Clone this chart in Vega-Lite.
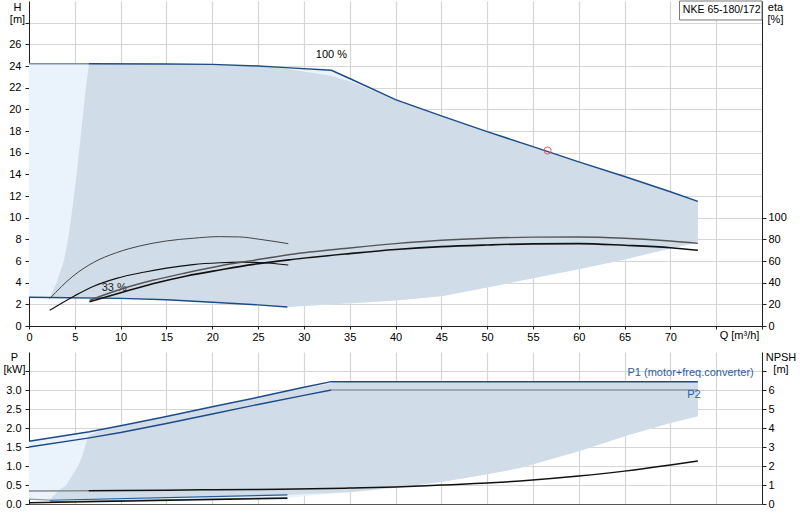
{
  "$schema": "https://vega.github.io/schema/vega-lite/v6.json",
  "background": "white",
  "padding": {"left": 3, "top": 0, "right": 0, "bottom": 0},
  "bounds": "flush",
  "spacing": 26,
  "datasets": {
    "light_h": [
      {"Q": 0, "H": 2.65, "H2": 24.2}, {"Q": 2.2, "H": 2.62, "H2": 24.2}, {"Q": 6.55, "H": 2.58, "H2": 24.2},
      {"Q": 10, "H": 2.55, "H2": 24.18}, {"Q": 15, "H": 2.42, "H2": 24.17}, {"Q": 20, "H": 2.2, "H2": 24.15},
      {"Q": 25, "H": 1.95, "H2": 24.0}, {"Q": 28.2, "H": 1.75, "H2": 23.83}, {"Q": 33, "H": 2.0, "H2": 23.6},
      {"Q": 35, "H": 2.1, "H2": 22.85}, {"Q": 40, "H": 2.35, "H2": 20.9}, {"Q": 45, "H": 2.75, "H2": 19.4},
      {"Q": 50, "H": 3.55, "H2": 17.94}, {"Q": 55, "H": 4.4, "H2": 16.56}, {"Q": 60, "H": 5.25, "H2": 15.15},
      {"Q": 65, "H": 6.15, "H2": 13.8}, {"Q": 70, "H": 7.15, "H2": 12.4}, {"Q": 73, "H": 7.7, "H2": 11.5}
    ],
    "dark_h": [
      {"Q": 2.25, "H": 2.6, "H2": 2.6}, {"Q": 3.0, "H": 2.6, "H2": 4.0}, {"Q": 3.8, "H": 2.59, "H2": 6.0},
      {"Q": 4.27, "H": 2.59, "H2": 8.0}, {"Q": 4.6, "H": 2.59, "H2": 10.0}, {"Q": 5.2, "H": 2.58, "H2": 14.0},
      {"Q": 5.7, "H": 2.58, "H2": 18.0}, {"Q": 6.2, "H": 2.58, "H2": 22.0}, {"Q": 6.55, "H": 2.58, "H2": 24.2},
      {"Q": 10, "H": 2.55, "H2": 24.18}, {"Q": 15, "H": 2.42, "H2": 24.16}, {"Q": 20, "H": 2.2, "H2": 24.12},
      {"Q": 25, "H": 1.95, "H2": 23.95}, {"Q": 28.2, "H": 1.75, "H2": 23.72}, {"Q": 31, "H": 1.9, "H2": 23.35},
      {"Q": 33, "H": 2.0, "H2": 23.1}, {"Q": 35, "H": 2.1, "H2": 22.6}, {"Q": 37, "H": 2.2, "H2": 21.9},
      {"Q": 40, "H": 2.35, "H2": 20.85}, {"Q": 45, "H": 2.75, "H2": 19.38}, {"Q": 50, "H": 3.55, "H2": 17.92},
      {"Q": 55, "H": 4.4, "H2": 16.54}, {"Q": 60, "H": 5.25, "H2": 15.13}, {"Q": 65, "H": 6.15, "H2": 13.78},
      {"Q": 70, "H": 7.15, "H2": 12.38}, {"Q": 73, "H": 7.7, "H2": 11.5}
    ],
    "h_lines": [
      {"s": "ext", "Q": 0, "H": 24.2}, {"s": "ext", "Q": 6.5, "H": 24.2},
      {"s": "max", "Q": 6.5, "H": 24.2}, {"s": "max", "Q": 15, "H": 24.18}, {"s": "max", "Q": 20, "H": 24.15},
      {"s": "max", "Q": 25, "H": 24.0}, {"s": "max", "Q": 28, "H": 23.85}, {"s": "max", "Q": 33, "H": 23.6},
      {"s": "max", "Q": 35, "H": 22.85}, {"s": "max", "Q": 40, "H": 20.9}, {"s": "max", "Q": 45, "H": 19.4},
      {"s": "max", "Q": 50, "H": 17.94}, {"s": "max", "Q": 55, "H": 16.56}, {"s": "max", "Q": 60, "H": 15.15},
      {"s": "max", "Q": 65, "H": 13.8}, {"s": "max", "Q": 70, "H": 12.4}, {"s": "max", "Q": 73, "H": 11.5},
      {"s": "min", "Q": 0, "H": 2.65}, {"s": "min", "Q": 2.2, "H": 2.62}, {"s": "min", "Q": 10, "H": 2.55},
      {"s": "min", "Q": 15, "H": 2.42}, {"s": "min", "Q": 20, "H": 2.2}, {"s": "min", "Q": 25, "H": 1.95},
      {"s": "min", "Q": 28.2, "H": 1.75}
    ],
    "eta": [
      {"c": "a", "Q": 2.26, "eta": 25.3}, {"c": "a", "Q": 4.8, "eta": 46}, {"c": "a", "Q": 7.0, "eta": 58.5},
      {"c": "a", "Q": 9.55, "eta": 67.7}, {"c": "a", "Q": 12.1, "eta": 73.9}, {"c": "a", "Q": 15, "eta": 78.5},
      {"c": "a", "Q": 17.9, "eta": 81}, {"c": "a", "Q": 20.8, "eta": 82.5}, {"c": "a", "Q": 23, "eta": 82.2},
      {"c": "a", "Q": 25.2, "eta": 80}, {"c": "a", "Q": 28.3, "eta": 76},
      {"c": "b", "Q": 2.26, "eta": 14.5}, {"c": "b", "Q": 5, "eta": 28}, {"c": "b", "Q": 7, "eta": 36.5},
      {"c": "b", "Q": 9.55, "eta": 44}, {"c": "b", "Q": 12.5, "eta": 49.6}, {"c": "b", "Q": 15, "eta": 53.4},
      {"c": "b", "Q": 17.9, "eta": 56.7}, {"c": "b", "Q": 20.8, "eta": 58.4}, {"c": "b", "Q": 23, "eta": 59},
      {"c": "b", "Q": 25.6, "eta": 58.4}, {"c": "b", "Q": 28.3, "eta": 56.3},
      {"c": "c", "Q": 6.6, "eta": 23.7}, {"c": "c", "Q": 10, "eta": 33.9}, {"c": "c", "Q": 13.5, "eta": 42.2},
      {"c": "c", "Q": 17.2, "eta": 49.2}, {"c": "c", "Q": 20.8, "eta": 55.4}, {"c": "c", "Q": 24.5, "eta": 60.6},
      {"c": "c", "Q": 28.5, "eta": 66}, {"c": "c", "Q": 35, "eta": 72}, {"c": "c", "Q": 40, "eta": 76},
      {"c": "c", "Q": 45, "eta": 79.1}, {"c": "c", "Q": 50, "eta": 81}, {"c": "c", "Q": 55, "eta": 82},
      {"c": "c", "Q": 60, "eta": 82.2}, {"c": "c", "Q": 65, "eta": 81}, {"c": "c", "Q": 70, "eta": 78.5},
      {"c": "c", "Q": 73, "eta": 76.3},
      {"c": "d", "Q": 6.6, "eta": 22.4}, {"c": "d", "Q": 10, "eta": 30.7}, {"c": "d", "Q": 13.5, "eta": 39},
      {"c": "d", "Q": 17.2, "eta": 46.2}, {"c": "d", "Q": 20.8, "eta": 51.7}, {"c": "d", "Q": 24.5, "eta": 56.9},
      {"c": "d", "Q": 28.5, "eta": 61.2}, {"c": "d", "Q": 35, "eta": 66.8}, {"c": "d", "Q": 40, "eta": 70.6},
      {"c": "d", "Q": 45, "eta": 73.3}, {"c": "d", "Q": 50, "eta": 74.8}, {"c": "d", "Q": 55, "eta": 75.8},
      {"c": "d", "Q": 60, "eta": 76}, {"c": "d", "Q": 65, "eta": 74.5}, {"c": "d", "Q": 70, "eta": 72.3},
      {"c": "d", "Q": 73, "eta": 69.9}
    ],
    "light_p": [
      {"Q": 0, "P": 0.12, "P2": 1.65}, {"Q": 2.2, "P": 0.1, "P2": 1.74}, {"Q": 6.5, "P": 0.08, "P2": 1.9},
      {"Q": 10, "P": 0.09, "P2": 2.06}, {"Q": 15, "P": 0.11, "P2": 2.3}, {"Q": 20, "P": 0.13, "P2": 2.56},
      {"Q": 25, "P": 0.15, "P2": 2.81}, {"Q": 28.2, "P": 0.165, "P2": 2.97}, {"Q": 33, "P": 0.27, "P2": 3.22},
      {"Q": 35, "P": 0.31, "P2": 3.22}, {"Q": 40, "P": 0.43, "P2": 3.22}, {"Q": 45, "P": 0.58, "P2": 3.22},
      {"Q": 50, "P": 0.78, "P2": 3.22}, {"Q": 53.6, "P": 0.95, "P2": 3.22}, {"Q": 60, "P": 1.39, "P2": 3.22},
      {"Q": 65, "P": 1.78, "P2": 3.22}, {"Q": 70, "P": 2.13, "P2": 3.22}, {"Q": 73, "P": 2.31, "P2": 3.22}
    ],
    "dark_p": [
      {"Q": 2.2, "P": 0.1, "P2": 0.1}, {"Q": 2.8, "P": 0.103, "P2": 0.25}, {"Q": 3.5, "P": 0.107, "P2": 0.4},
      {"Q": 4.1, "P": 0.11, "P2": 0.5}, {"Q": 4.7, "P": 0.113, "P2": 0.75}, {"Q": 5.35, "P": 0.117, "P2": 1.0},
      {"Q": 5.8, "P": 0.12, "P2": 1.25}, {"Q": 6.1, "P": 0.121, "P2": 1.5}, {"Q": 6.5, "P": 0.123, "P2": 1.8},
      {"Q": 8, "P": 0.131, "P2": 1.95}, {"Q": 10, "P": 0.142, "P2": 2.05}, {"Q": 15, "P": 0.169, "P2": 2.29},
      {"Q": 20, "P": 0.196, "P2": 2.55}, {"Q": 25, "P": 0.223, "P2": 2.8}, {"Q": 28.2, "P": 0.24, "P2": 2.96},
      {"Q": 30, "P": 0.26, "P2": 3.05}, {"Q": 33, "P": 0.29, "P2": 3.17}, {"Q": 35, "P": 0.31, "P2": 3.21},
      {"Q": 40, "P": 0.43, "P2": 3.22}, {"Q": 45, "P": 0.58, "P2": 3.22}, {"Q": 50, "P": 0.78, "P2": 3.22},
      {"Q": 53.6, "P": 0.95, "P2": 3.22}, {"Q": 60, "P": 1.39, "P2": 3.22}, {"Q": 65, "P": 1.78, "P2": 3.22},
      {"Q": 70, "P": 2.13, "P2": 3.22}, {"Q": 73, "P": 2.31, "P2": 3.22}
    ],
    "p_lines": [
      {"s": "P1", "Q": 0, "P": 1.65}, {"s": "P1", "Q": 6.6, "P": 1.9}, {"s": "P1", "Q": 10, "P": 2.06},
      {"s": "P1", "Q": 15, "P": 2.3}, {"s": "P1", "Q": 20, "P": 2.56}, {"s": "P1", "Q": 25, "P": 2.81},
      {"s": "P1", "Q": 30, "P": 3.07}, {"s": "P1", "Q": 33, "P": 3.22}, {"s": "P1", "Q": 73, "P": 3.22},
      {"s": "P2a", "Q": 0, "P": 1.5}, {"s": "P2a", "Q": 6.6, "P": 1.74}, {"s": "P2a", "Q": 10, "P": 1.88},
      {"s": "P2a", "Q": 15, "P": 2.12}, {"s": "P2a", "Q": 20, "P": 2.37}, {"s": "P2a", "Q": 25, "P": 2.62},
      {"s": "P2a", "Q": 30, "P": 2.86}, {"s": "P2a", "Q": 33, "P": 3.0},
      {"s": "P2b", "Q": 33, "P": 3.0}, {"s": "P2b", "Q": 73, "P": 3.0},
      {"s": "P1ext", "Q": 0, "P": 0.13}, {"s": "P1ext", "Q": 2.3, "P": 0.1},
      {"s": "P1min", "Q": 2.3, "P": 0.1}, {"s": "P1min", "Q": 28.2, "P": 0.24},
      {"s": "P2min", "Q": 2.3, "P": 0.06}, {"s": "P2min", "Q": 28.2, "P": 0.165}
    ],
    "npsh": [
      {"s": "ext", "Q": 0, "NPSH": 0.68}, {"s": "ext", "Q": 6.5, "NPSH": 0.7},
      {"s": "npsh", "Q": 6.5, "NPSH": 0.7}, {"s": "npsh", "Q": 15, "NPSH": 0.73}, {"s": "npsh", "Q": 20, "NPSH": 0.75},
      {"s": "npsh", "Q": 27.4, "NPSH": 0.77}, {"s": "npsh", "Q": 35, "NPSH": 0.84}, {"s": "npsh", "Q": 40, "NPSH": 0.9},
      {"s": "npsh", "Q": 45, "NPSH": 1.0}, {"s": "npsh", "Q": 50, "NPSH": 1.1}, {"s": "npsh", "Q": 53.6, "NPSH": 1.21},
      {"s": "npsh", "Q": 60, "NPSH": 1.47}, {"s": "npsh", "Q": 65, "NPSH": 1.73}, {"s": "npsh", "Q": 70, "NPSH": 2.05},
      {"s": "npsh", "Q": 73, "NPSH": 2.26},
      {"s": "min", "Q": 0, "NPSH": 0.07}, {"s": "min", "Q": 28.2, "NPSH": 0.3}
    ]
  },
  "config": {
    "font": "Liberation Sans",
    "view": {"stroke": null},
    "axis": {
      "labelFont": "Liberation Sans", "labelFontSize": 11, "labelColor": "#000",
      "titleFont": "Liberation Sans", "titleFontSize": 11, "titleFontWeight": "normal", "titleColor": "#000",
      "gridColor": "#d6d6d6", "gridWidth": 1.2, "domainColor": "#222", "tickColor": "#222",
      "tickSize": 4, "labelPadding": 3, "labelFlush": false, "labelOverlap": false, "zindex": 1
    },
    "text": {"font": "Liberation Sans", "fontSize": 11}
  },
  "vconcat": [
    {
      "width": 733,
      "height": 325,
      "layer": [
        {
          "layer": [
            {
              "encoding": {
                "x": {
                  "field": "Q", "type": "quantitative",
                  "scale": {"domain": [0, 80], "nice": false, "zero": false},
                  "axis": {"values": [0, 5, 10, 15, 20, 25, 30, 35, 40, 45, 50, 55, 60, 65, 70, 75, 80], "labelExpr": "datum.value > 70 ? '' : datum.label", "title": "Q [m³/h]", "titleX": 710, "titleY": 9, "titleBaseline": "middle", "titleAlign": "center", "tickSize": 3, "labelPadding": 2}
                },
                "y": {
                  "field": "H", "type": "quantitative",
                  "scale": {"domain": [0, 30], "nice": false},
                  "axis": {"values": [0, 2, 4, 6, 8, 10, 12, 14, 16, 18, 20, 22, 24, 26, 28], "labelExpr": "datum.value > 26 ? '' : datum.label", "title": ["H", "[m]"], "titleAngle": 0, "titleAlign": "center", "titleBaseline": "top", "titleX": -12, "titleY": 0, "titleLineHeight": 12, "labelPadding": 4}
                }
              },
              "layer": [
                {"data": {"name": "light_h"}, "mark": {"type": "area", "color": "#eaf3fb"}, "encoding": {"y2": {"field": "H2"}}},
                {"data": {"name": "dark_h"}, "mark": {"type": "area", "color": "#d0dce7"}, "encoding": {"y2": {"field": "H2"}}},
                {
                  "data": {"name": "h_lines"},
                  "mark": {"type": "line", "strokeWidth": 1.5},
                  "encoding": {"color": {"field": "s", "type": "nominal", "scale": {"domain": ["ext", "max", "min"], "range": ["#7a90ab", "#1c4b88", "#1c4b88"]}, "legend": null}}
                }
              ]
            },
            {
              "data": {"values": [{}]},
              "mark": {"type": "point", "shape": "circle", "filled": false, "color": "#ec5a5a", "size": 50, "strokeWidth": 1, "opacity": 1},
              "encoding": {
                "x": {"datum": 56.6, "type": "quantitative", "scale": {"domain": [0, 80], "nice": false, "zero": false}, "axis": {"values": [0, 5, 10, 15, 20, 25, 30, 35, 40, 45, 50, 55, 60, 65, 70, 75, 80], "labelExpr": "datum.value > 70 ? '' : datum.label", "title": "Q [m³/h]", "titleX": 710, "titleY": 9, "titleBaseline": "middle", "titleAlign": "center", "tickSize": 3, "labelPadding": 2}},
                "y": {"datum": 16.2, "type": "quantitative", "scale": {"domain": [0, 30], "nice": false}, "axis": {"values": [0, 2, 4, 6, 8, 10, 12, 14, 16, 18, 20, 22, 24, 26, 28], "labelExpr": "datum.value > 26 ? '' : datum.label", "title": ["H", "[m]"], "titleAngle": 0, "titleAlign": "center", "titleBaseline": "top", "titleX": -12, "titleY": 0, "titleLineHeight": 12, "labelPadding": 4}}
              }
            },
            {
              "data": {"values": [{}]},
              "mark": {"type": "text", "text": "100 %", "color": "#000"},
              "encoding": {
                "x": {"datum": 33, "type": "quantitative", "scale": {"domain": [0, 80], "nice": false, "zero": false}, "axis": {"values": [0, 5, 10, 15, 20, 25, 30, 35, 40, 45, 50, 55, 60, 65, 70, 75, 80], "labelExpr": "datum.value > 70 ? '' : datum.label", "title": "Q [m³/h]", "titleX": 710, "titleY": 9, "titleBaseline": "middle", "titleAlign": "center", "tickSize": 3, "labelPadding": 2}},
                "y": {"datum": 25, "type": "quantitative", "scale": {"domain": [0, 30], "nice": false}, "axis": {"values": [0, 2, 4, 6, 8, 10, 12, 14, 16, 18, 20, 22, 24, 26, 28], "labelExpr": "datum.value > 26 ? '' : datum.label", "title": ["H", "[m]"], "titleAngle": 0, "titleAlign": "center", "titleBaseline": "top", "titleX": -12, "titleY": 0, "titleLineHeight": 12, "labelPadding": 4}}
              }
            },
            {
              "data": {"values": [{}]},
              "mark": {"type": "text", "text": "33 %", "color": "#222"},
              "encoding": {
                "x": {"datum": 9.3, "type": "quantitative", "scale": {"domain": [0, 80], "nice": false, "zero": false}, "axis": {"values": [0, 5, 10, 15, 20, 25, 30, 35, 40, 45, 50, 55, 60, 65, 70, 75, 80], "labelExpr": "datum.value > 70 ? '' : datum.label", "title": "Q [m³/h]", "titleX": 710, "titleY": 9, "titleBaseline": "middle", "titleAlign": "center", "tickSize": 3, "labelPadding": 2}},
                "y": {"datum": 3.5, "type": "quantitative", "scale": {"domain": [0, 30], "nice": false}, "axis": {"values": [0, 2, 4, 6, 8, 10, 12, 14, 16, 18, 20, 22, 24, 26, 28], "labelExpr": "datum.value > 26 ? '' : datum.label", "title": ["H", "[m]"], "titleAngle": 0, "titleAlign": "center", "titleBaseline": "top", "titleX": -12, "titleY": 0, "titleLineHeight": 12, "labelPadding": 4}}
              }
            },
            {
              "data": {"values": [{}]},
              "mark": {"type": "rect", "fill": "white", "stroke": "#777", "strokeWidth": 1},
              "encoding": {
                "x": {"datum": 71, "type": "quantitative", "scale": {"domain": [0, 80], "nice": false, "zero": false}, "axis": {"values": [0, 5, 10, 15, 20, 25, 30, 35, 40, 45, 50, 55, 60, 65, 70, 75, 80], "labelExpr": "datum.value > 70 ? '' : datum.label", "title": "Q [m³/h]", "titleX": 710, "titleY": 9, "titleBaseline": "middle", "titleAlign": "center", "tickSize": 3, "labelPadding": 2}},
                "x2": {"datum": 80},
                "y": {"datum": 28.25, "type": "quantitative", "scale": {"domain": [0, 30], "nice": false}, "axis": {"values": [0, 2, 4, 6, 8, 10, 12, 14, 16, 18, 20, 22, 24, 26, 28], "labelExpr": "datum.value > 26 ? '' : datum.label", "title": ["H", "[m]"], "titleAngle": 0, "titleAlign": "center", "titleBaseline": "top", "titleX": -12, "titleY": 0, "titleLineHeight": 12, "labelPadding": 4}},
                "y2": {"datum": 30}
              }
            },
            {
              "data": {"values": [{}]},
              "mark": {"type": "text", "text": "NKE 65-180/172", "color": "#000", "fontSize": 10.5},
              "encoding": {
                "x": {"datum": 75.6, "type": "quantitative", "scale": {"domain": [0, 80], "nice": false, "zero": false}, "axis": {"values": [0, 5, 10, 15, 20, 25, 30, 35, 40, 45, 50, 55, 60, 65, 70, 75, 80], "labelExpr": "datum.value > 70 ? '' : datum.label", "title": "Q [m³/h]", "titleX": 710, "titleY": 9, "titleBaseline": "middle", "titleAlign": "center", "tickSize": 3, "labelPadding": 2}},
                "y": {"datum": 29.2, "type": "quantitative", "scale": {"domain": [0, 30], "nice": false}, "axis": {"values": [0, 2, 4, 6, 8, 10, 12, 14, 16, 18, 20, 22, 24, 26, 28], "labelExpr": "datum.value > 26 ? '' : datum.label", "title": ["H", "[m]"], "titleAngle": 0, "titleAlign": "center", "titleBaseline": "top", "titleX": -12, "titleY": 0, "titleLineHeight": 12, "labelPadding": 4}}
              }
            }
          ]
        },
        {
          "data": {"name": "eta"},
          "mark": {"type": "line", "interpolate": "monotone"},
          "encoding": {
            "x": {"field": "Q", "type": "quantitative", "scale": {"domain": [0, 80], "nice": false, "zero": false}, "axis": {"values": [0, 5, 10, 15, 20, 25, 30, 35, 40, 45, 50, 55, 60, 65, 70, 75, 80], "labelExpr": "datum.value > 70 ? '' : datum.label", "title": "Q [m³/h]", "titleX": 710, "titleY": 9, "titleBaseline": "middle", "titleAlign": "center", "tickSize": 3, "labelPadding": 2}},
            "y": {
              "field": "eta", "type": "quantitative",
              "scale": {"domain": [0, 300], "nice": false},
              "axis": {"orient": "right", "grid": false, "values": [0, 20, 40, 60, 80, 100], "title": ["eta", "[%]"], "titleAngle": 0, "titleAlign": "center", "titleBaseline": "top", "titleX": 13, "titleY": 0, "titleLineHeight": 12, "labelPadding": 2}
            },
            "color": {"field": "c", "type": "nominal", "scale": {"domain": ["a", "b", "c", "d"], "range": ["#444444", "#111111", "#555555", "#111111"]}, "legend": null},
            "strokeWidth": {"field": "c", "type": "nominal", "scale": {"domain": ["a", "b", "c", "d"], "range": [1, 1.6, 1.2, 1.6]}, "legend": null}
          }
        }
      ],
      "resolve": {"scale": {"y": "independent", "color": "independent", "strokeWidth": "independent"}}
    },
    {
      "width": 733,
      "height": 152,
      "layer": [
        {
          "layer": [
            {
              "encoding": {
                "x": {
                  "field": "Q", "type": "quantitative",
                  "scale": {"domain": [0, 80], "nice": false, "zero": false},
                  "axis": {"values": [0, 5, 10, 15, 20, 25, 30, 35, 40, 45, 50, 55, 60, 65, 70, 75, 80], "labels": false, "ticks": false, "title": null, "domainColor": "#555"}
                },
                "y": {
                  "field": "P", "type": "quantitative",
                  "scale": {"domain": [0, 4], "nice": false},
                  "axis": {"values": [0, 0.5, 1, 1.5, 2, 2.5, 3, 3.5], "labelExpr": "datum.value > 3 ? '' : format(datum.value, '.1f')", "title": ["P", "[kW]"], "titleAngle": 0, "titleAlign": "center", "titleBaseline": "top", "titleX": -15, "titleY": -1, "titleLineHeight": 12, "labelPadding": 4}
                }
              },
              "layer": [
                {"data": {"name": "light_p"}, "mark": {"type": "area", "color": "#eaf3fb"}, "encoding": {"y2": {"field": "P2"}}},
                {"data": {"name": "dark_p"}, "mark": {"type": "area", "color": "#d0dce7"}, "encoding": {"y2": {"field": "P2"}}},
                {
                  "data": {"name": "p_lines"},
                  "mark": {"type": "line"},
                  "encoding": {
                    "color": {"field": "s", "type": "nominal", "scale": {"domain": ["P1", "P2a", "P2b", "P1ext", "P1min", "P2min"], "range": ["#1c4b88", "#1c4b88", "#8796aa", "#8d99a6", "#1f5c99", "#6b7f99"]}, "legend": null},
                    "strokeWidth": {"field": "s", "type": "nominal", "scale": {"domain": ["P1", "P2a", "P2b", "P1ext", "P1min", "P2min"], "range": [1.5, 1, 2, 1.5, 1.5, 1.5]}, "legend": null}
                  }
                }
              ]
            },
            {
              "data": {"values": [{}]},
              "mark": {"type": "text", "text": "P1 (motor+freq.converter)", "align": "right", "color": "#2b5f9e"},
              "encoding": {
                "x": {"datum": 79.1, "type": "quantitative", "scale": {"domain": [0, 80], "nice": false, "zero": false}, "axis": {"values": [0, 5, 10, 15, 20, 25, 30, 35, 40, 45, 50, 55, 60, 65, 70, 75, 80], "labels": false, "ticks": false, "title": null, "domainColor": "#555"}},
                "y": {"datum": 3.46, "type": "quantitative", "scale": {"domain": [0, 4], "nice": false}, "axis": {"values": [0, 0.5, 1, 1.5, 2, 2.5, 3, 3.5], "labelExpr": "datum.value > 3 ? '' : format(datum.value, '.1f')", "title": ["P", "[kW]"], "titleAngle": 0, "titleAlign": "center", "titleBaseline": "top", "titleX": -15, "titleY": -1, "titleLineHeight": 12, "labelPadding": 4}}
              }
            },
            {
              "data": {"values": [{}]},
              "mark": {"type": "text", "text": "P2", "align": "right", "color": "#2b5f9e"},
              "encoding": {
                "x": {"datum": 73.3, "type": "quantitative", "scale": {"domain": [0, 80], "nice": false, "zero": false}, "axis": {"values": [0, 5, 10, 15, 20, 25, 30, 35, 40, 45, 50, 55, 60, 65, 70, 75, 80], "labels": false, "ticks": false, "title": null, "domainColor": "#555"}},
                "y": {"datum": 2.86, "type": "quantitative", "scale": {"domain": [0, 4], "nice": false}, "axis": {"values": [0, 0.5, 1, 1.5, 2, 2.5, 3, 3.5], "labelExpr": "datum.value > 3 ? '' : format(datum.value, '.1f')", "title": ["P", "[kW]"], "titleAngle": 0, "titleAlign": "center", "titleBaseline": "top", "titleX": -15, "titleY": -1, "titleLineHeight": 12, "labelPadding": 4}}
              }
            }
          ]
        },
        {
          "data": {"name": "npsh"},
          "mark": {"type": "line", "interpolate": "monotone"},
          "encoding": {
            "x": {"field": "Q", "type": "quantitative", "scale": {"domain": [0, 80], "nice": false, "zero": false}, "axis": {"values": [0, 5, 10, 15, 20, 25, 30, 35, 40, 45, 50, 55, 60, 65, 70, 75, 80], "labels": false, "ticks": false, "title": null, "domainColor": "#555"}},
            "y": {
              "field": "NPSH", "type": "quantitative",
              "scale": {"domain": [0, 8], "nice": false},
              "axis": {"orient": "right", "grid": false, "values": [0, 1, 2, 3, 4, 5, 6, 7], "labelExpr": "datum.value > 6 ? '' : datum.label", "title": ["NPSH", "[m]"], "titleAngle": 0, "titleAlign": "center", "titleBaseline": "top", "titleX": 18.5, "titleY": -1, "titleLineHeight": 12, "labelPadding": 2}
            },
            "color": {"field": "s", "type": "nominal", "scale": {"domain": ["ext", "npsh", "min"], "range": ["#8a8a8a", "#111111", "#111111"]}, "legend": null},
            "strokeWidth": {"value": 1.5}
          }
        }
      ],
      "resolve": {"scale": {"y": "independent", "color": "independent", "strokeWidth": "independent"}}
    }
  ]
}
